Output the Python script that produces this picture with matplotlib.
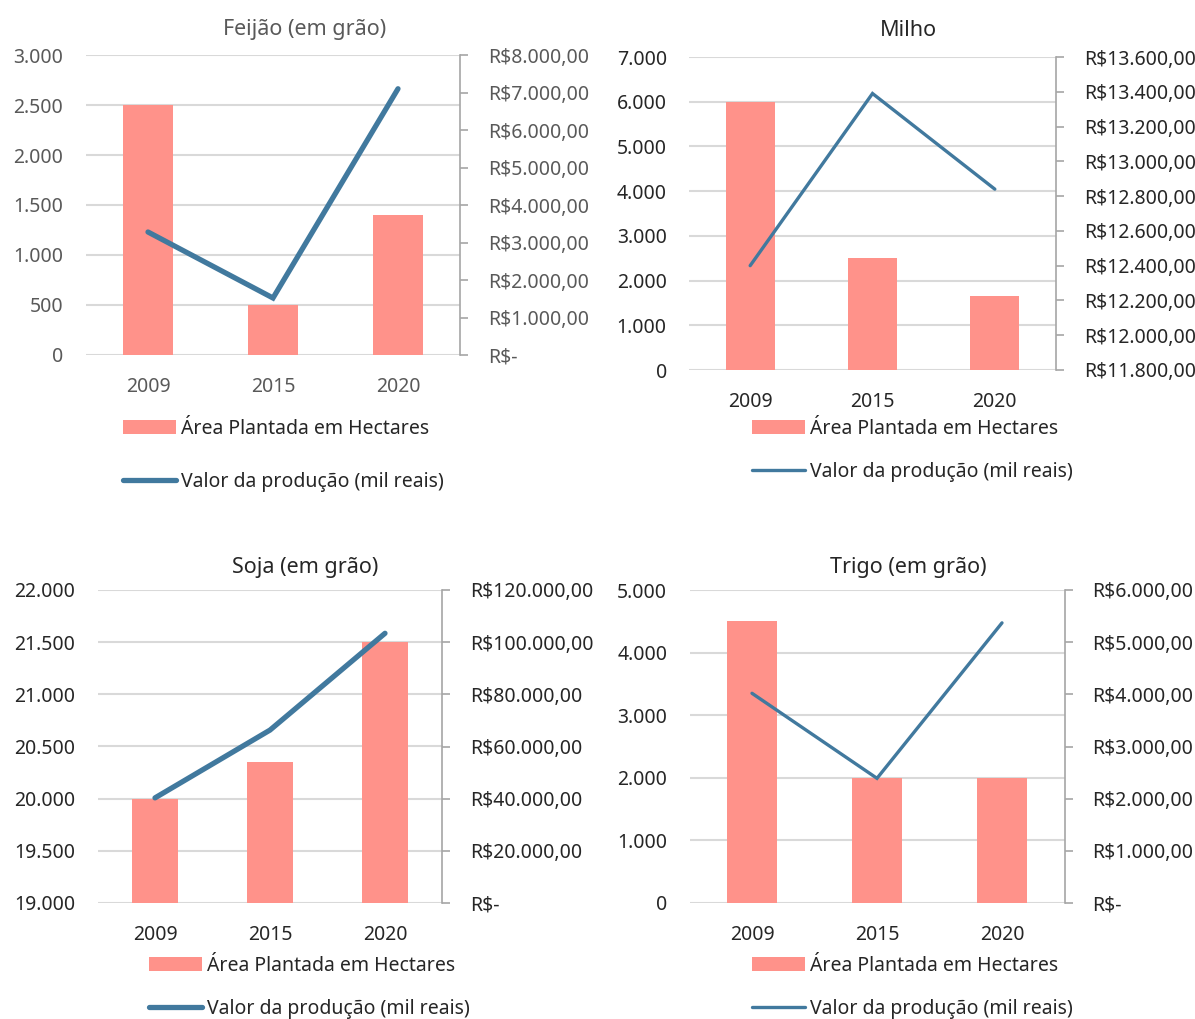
import matplotlib.pyplot as plt
from matplotlib.patches import Patch
from matplotlib.lines import Line2D
from matplotlib.ticker import FuncFormatter

plt.rcParams['font.family'] = ['Noto Sans', 'DejaVu Sans']
plt.rcParams['font.weight'] = 'light'

anos = ['2009', '2015', '2020']

feijao_area = [2500, 500, 1400]
feijao_valor = [3280, 1520, 7100]

milho_area = [6000, 2500, 1650]
milho_valor = [12400, 13390, 12840]

soja_area = [20000, 20350, 21500]
soja_valor = [40300, 66300, 103400]

trigo_area = [4500, 2000, 2000]
trigo_valor = [4020, 2390, 5370]

W, H = 1195, 1019
COR_BARRA = '#ff928a'
COR_LINHA = '#41799e'
COR_GRADE = '#d9d9d9'
FS = 14


def milhar(v, pos=None):
    return f'{int(round(v)):,}'.replace(',', '.')


def reais(v, pos=None):
    if abs(v) < 1e-9:
        return 'R$-'
    return 'R$' + f'{v:,.2f}'.replace(',', 'X').replace('.', ',').replace('X', '.')


fig = plt.figure(figsize=(W / 100, H / 100), dpi=100)


def grafico(caixa, titulo, area, valor, ylim, ystep, y2lim, y2step,
            lw, cor_txt, titulo_xy, leg_xy, leg_esp):
    l, t, r, b = caixa
    ax = fig.add_axes([l / W, 1 - b / H, (r - l) / W, (b - t) / H])
    x = range(len(anos))
    ax.bar(x, [v - ylim[0] for v in area], bottom=ylim[0], width=0.4,
           color=COR_BARRA, zorder=2)
    ax.set_xlim(-0.5, len(anos) - 0.5)
    ax.set_ylim(*ylim)
    ax.set_yticks(range(ylim[0], ylim[1] + 1, ystep))
    ax.yaxis.set_major_formatter(FuncFormatter(milhar))
    ax.set_xticks(list(x))
    ax.set_xticklabels(anos)
    ax.grid(axis='y', color=COR_GRADE, lw=1.5, zorder=0)
    ax.set_axisbelow(True)
    for s in ax.spines.values():
        s.set_visible(False)
    ax.tick_params(axis='y', length=0, pad=16, labelsize=FS, labelcolor=cor_txt)
    ax.tick_params(axis='x', length=0, pad=16, labelsize=FS, labelcolor=cor_txt)

    ax2 = ax.twinx()
    ax2.plot(x, valor, color=COR_LINHA, lw=lw, solid_capstyle='round',
             solid_joinstyle='miter', zorder=3)
    ax2.set_ylim(*y2lim)
    n = int(round((y2lim[1] - y2lim[0]) / y2step))
    ax2.set_yticks([y2lim[0] + i * y2step for i in range(n + 1)])
    ax2.yaxis.set_major_formatter(FuncFormatter(reais))
    for k, s in ax2.spines.items():
        s.set_visible(k == 'right')
    ax2.spines['right'].set_color('#a6a6a6')
    ax2.spines['right'].set_linewidth(1.2)
    ax2.tick_params(axis='y', length=6, width=1.2, color='#a6a6a6', pad=14,
                    labelsize=FS, labelcolor=cor_txt)

    fig.text(titulo_xy[0] / W, 1 - titulo_xy[1] / H, titulo, ha='center',
             va='center', fontsize=FS + 1.5, color=cor_txt)

    alcas = [Patch(facecolor=COR_BARRA, edgecolor='none'),
             Line2D([0], [0], color=COR_LINHA, lw=lw, solid_capstyle='round')]
    rotulos = ['Área Plantada em Hectares', 'Valor da produção (mil reais)']
    fig.legend(alcas, rotulos, loc='upper left',
               bbox_to_anchor=(leg_xy[0] / W, 1 - leg_xy[1] / H),
               frameon=False, fontsize=FS, borderpad=0, borderaxespad=0,
               handlelength=2.7, handleheight=0.75, handletextpad=0.3,
               labelspacing=leg_esp, labelcolor='#262626')


grafico((85.5, 55, 460.5, 355), 'Feijão (em grão)', feijao_area, feijao_valor,
        (0, 3000), 500, (0, 8000), 1000, 3.8, '#595959', (305, 30),
        (123, 419), 1.7)
grafico((689, 57, 1056, 370), 'Milho', milho_area, milho_valor,
        (0, 7000), 1000, (11800, 13600), 200, 2.4, '#262626', (908, 30),
        (752, 419), 1.2)
grafico((97.5, 590, 442.5, 903), 'Soja (em grão)', soja_area, soja_valor,
        (19000, 22000), 500, (0, 120000), 20000, 3.8, '#262626', (305, 568),
        (149, 956), 1.2)
grafico((689.5, 590, 1064.5, 903), 'Trigo (em grão)', trigo_area, trigo_valor,
        (0, 5000), 1000, (0, 6000), 1000, 2.4, '#262626', (908, 568),
        (752, 956), 1.2)

fig.savefig('out.png', dpi=100, facecolor='white')
